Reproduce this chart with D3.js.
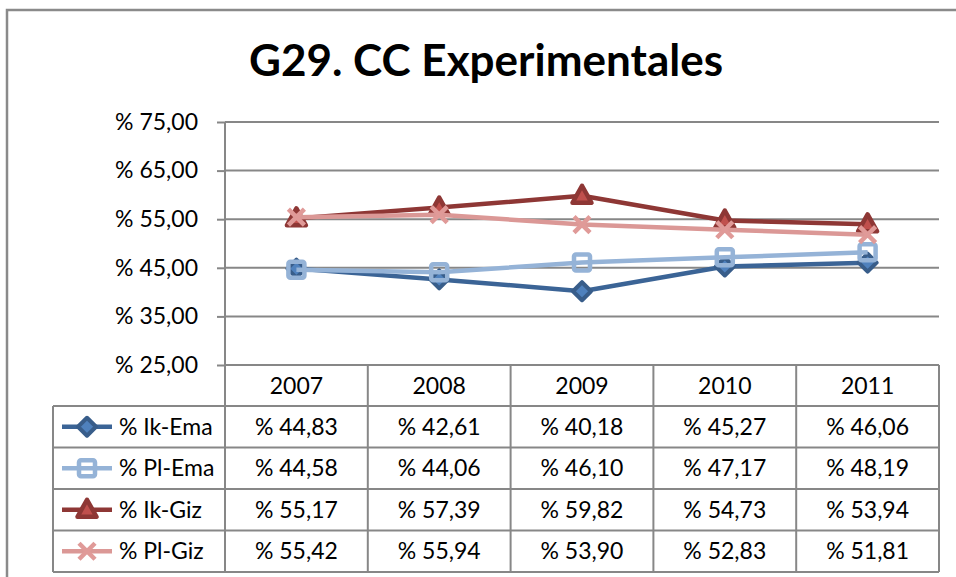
<!DOCTYPE html>
<html>
<head>
<meta charset="utf-8">
<script src="https://cdn.jsdelivr.net/npm/d3@7"></script>
<style>
  body { margin: 0; background: #fff; }
  text { font-family: Lato, "Open Sans", sans-serif; fill: #000; }
</style>
</head>
<body>
<div id="chart"></div>
<script>
"use strict";

var years = ["2007", "2008", "2009", "2010", "2011"];
var seriesNames = ["% Ik-Ema", "% Pl-Ema", "% Ik-Giz", "% Pl-Giz"];
var ikEma = [44.83, 42.61, 40.18, 45.27, 46.06];
var plEma = [44.58, 44.06, 46.10, 47.17, 48.19];
var ikGiz = [55.17, 57.39, 59.82, 54.73, 53.94];
var plGiz = [55.42, 55.94, 53.90, 52.83, 51.81];
var yTicks = [25, 35, 45, 55, 65, 75];

var series = [
    { name: seriesNames[0], values: ikEma, stroke: "#3b6496", marker: "diamond", mFill: "#4f81bd", mStroke: "#385d8a" },
    { name: seriesNames[1], values: plEma, stroke: "#95b3d7", marker: "square", mFill: "none", mStroke: "#95b3d7" },
    { name: seriesNames[2], values: ikGiz, stroke: "#8e3735", marker: "triangle", mFill: "#c0504d", mStroke: "#8e3735" },
    { name: seriesNames[3], values: plGiz, stroke: "#db9896", marker: "cross", mFill: "none", mStroke: "#e09a98" }
];

var width = 956, height = 577;
var grey = "#878787";
var plotLeft = 225, plotRight = 939, plotTop = 122, plotBottom = 365;
var tableLeft = 53, tableBottom = 572, headerBottom = 406;

var fmt = function (v) { return "% " + d3.format(".2f")(v).replace(".", ","); };

var svg = d3.select("#chart").append("svg")
    .attr("width", width)
    .attr("height", height);

// outer chart frame (runs off right/bottom)
svg.append("path")
    .attr("d", "M7," + (height + 5) + "V10H" + (width + 5))
    .attr("fill", "none")
    .attr("stroke", "#8a8a8a")
    .attr("stroke-width", 2.5);

svg.append("text")
    .attr("x", 486)
    .attr("y", 76)
    .attr("text-anchor", "middle")
    .style("font-size", "44px")
    .style("font-weight", "bold")
    .text("G29. CC Experimentales");

var x = d3.scaleBand().domain(years).range([plotLeft, plotRight]);
var y = d3.scaleLinear().domain([25, 75]).range([plotBottom, plotTop]);
var row = d3.scaleBand().domain(seriesNames).range([headerBottom, tableBottom]);

// gridlines
svg.append("g").selectAll("line")
    .data(yTicks)
    .join("line")
    .attr("x1", plotLeft).attr("x2", plotRight)
    .attr("y1", function (d) { return y(d); })
    .attr("y2", function (d) { return y(d); })
    .attr("stroke", grey)
    .attr("stroke-width", 2);

var yAxis = svg.append("g")
    .attr("transform", "translate(" + plotLeft + ",0)")
    .call(d3.axisLeft(y).tickValues(yTicks).tickFormat(fmt).tickSize(8).tickPadding(19));
yAxis.select(".domain").remove();
yAxis.selectAll(".tick line").attr("stroke", grey).attr("stroke-width", 2);
yAxis.selectAll(".tick text")
    .style("font-size", "23px")
    .style("font-family", "Lato, sans-serif")
    .attr("fill", "#000");

// table lines
var tbl = svg.append("g")
    .attr("stroke", grey)
    .attr("stroke-width", 2)
    .attr("fill", "none");
tbl.append("line").attr("x1", plotLeft).attr("x2", plotLeft).attr("y1", plotTop).attr("y2", tableBottom);
tbl.selectAll("line.col")
    .data(years)
    .join("line")
    .attr("class", "col")
    .attr("x1", function (d) { return x(d) + x.bandwidth(); })
    .attr("x2", function (d) { return x(d) + x.bandwidth(); })
    .attr("y1", plotBottom).attr("y2", tableBottom);
tbl.append("line").attr("x1", tableLeft).attr("x2", tableLeft).attr("y1", headerBottom).attr("y2", tableBottom);
tbl.selectAll("line.row")
    .data(seriesNames)
    .join("line")
    .attr("class", "row")
    .attr("x1", tableLeft).attr("x2", plotRight)
    .attr("y1", function (d) { return row(d); })
    .attr("y2", function (d) { return row(d); });
tbl.append("line").attr("x1", tableLeft).attr("x2", plotRight).attr("y1", tableBottom).attr("y2", tableBottom);

// header years
svg.append("g").selectAll("text")
    .data(years)
    .join("text")
    .attr("x", function (d) { return x(d) + x.bandwidth() / 2; })
    .attr("y", (plotBottom + headerBottom) / 2 + 8)
    .attr("text-anchor", "middle")
    .style("font-size", "23px")
    .text(function (d) { return d; });

function drawMarker(g, type, cx, cy, s) {
    var m;
    if (type === "diamond") {
        m = g.append("path").attr("d", "M" + cx + "," + (cy - 9) + "L" + (cx + 9) + "," + cy + "L" + cx + "," + (cy + 9) + "L" + (cx - 9) + "," + cy + "Z")
            .attr("stroke-width", 4).attr("stroke-linejoin", "round");
    } else if (type === "square") {
        m = g.append("rect").attr("x", cx - 8).attr("y", cy - 8).attr("width", 16).attr("height", 16)
            .attr("rx", 2).attr("stroke-width", 4.5);
    } else if (type === "triangle") {
        m = g.append("path").attr("d", "M" + cx + "," + (cy - 10) + "L" + (cx + 9.5) + "," + (cy + 7) + "L" + (cx - 9.5) + "," + (cy + 7) + "Z")
            .attr("stroke-width", 4.5).attr("stroke-linejoin", "round");
    } else {
        m = g.append("path").attr("d", "M" + (cx - 8) + "," + (cy - 8) + "L" + (cx + 8) + "," + (cy + 8) + "M" + (cx + 8) + "," + (cy - 8) + "L" + (cx - 8) + "," + (cy + 8))
            .attr("stroke-width", 4.5);
    }
    m.attr("fill", s.mFill).attr("stroke", s.mStroke);
}

var line = d3.line()
    .x(function (d, i) { return x(years[i]) + x.bandwidth() / 2; })
    .y(function (d) { return y(d); });

series.forEach(function (s) {
    var g = svg.append("g");
    g.append("path")
        .attr("d", line(s.values))
        .attr("fill", "none")
        .attr("stroke", s.stroke)
        .attr("stroke-width", 4.5)
        .attr("stroke-linejoin", "round");
    s.values.forEach(function (v, i) {
        drawMarker(g, s.marker, x(years[i]) + x.bandwidth() / 2, y(v), s);
    });

    // table row
    var ry = row(s.name) + row.bandwidth() / 2;
    var lg = svg.append("g");
    lg.append("line").attr("x1", 62).attr("x2", 112).attr("y1", ry).attr("y2", ry)
        .attr("stroke", s.stroke).attr("stroke-width", 4.5);
    drawMarker(lg, s.marker, 87, ry, s);
    lg.append("text").attr("x", 119).attr("y", ry + 8)
        .style("font-size", "23px").text(s.name);
    lg.selectAll("text.val")
        .data(s.values)
        .join("text")
        .attr("class", "val")
        .attr("x", function (d, i) { return x(years[i]) + x.bandwidth() / 2; })
        .attr("y", ry + 8)
        .attr("text-anchor", "middle")
        .style("font-size", "23px")
        .text(fmt);
});
</script>
</body>
</html>
